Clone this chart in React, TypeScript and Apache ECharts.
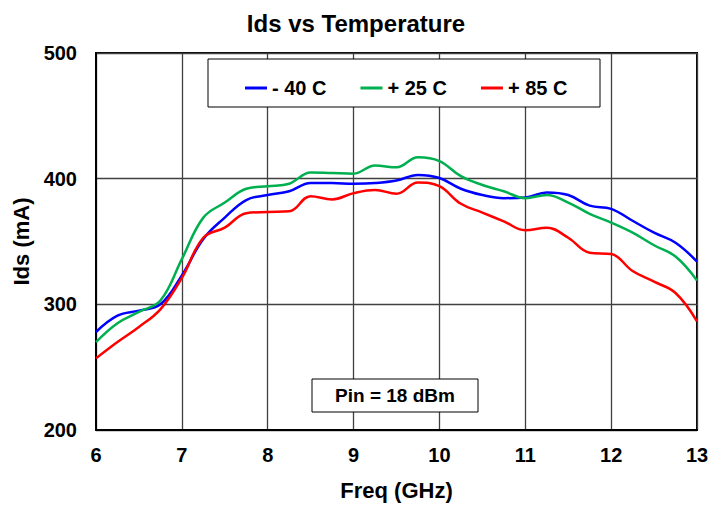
import React, { useEffect, useRef } from "react";
import * as echarts from "echarts";

const freqs = [6, 6.25, 6.5, 6.75, 7, 7.25, 7.5, 7.75, 8, 8.25, 8.5, 8.75, 9, 9.25, 9.5, 9.75, 10, 10.25, 10.5, 10.75, 11, 11.25, 11.5, 11.75, 12, 12.25, 12.5, 12.75, 13];
const idsM40 = [278, 291, 295, 300, 323, 352, 369, 383, 387, 390, 396.5, 396.5, 396, 396.5, 398.5, 403, 400.5, 392, 387, 384.5, 385, 389, 387, 378.5, 376, 366.5, 357, 349, 334];
const idsP25 = [270, 285, 294, 303, 336, 369, 381, 392, 394, 396, 405, 404.5, 404, 410.5, 409, 417, 414, 402, 395, 390, 384.5, 387, 381, 372, 365, 357, 347, 338, 319];
const idsP85 = [257, 270, 282, 296, 321, 353, 361, 372.5, 373.5, 374, 386, 383.5, 388.5, 391, 388, 397, 394, 380, 373, 366, 359, 361, 353, 341, 340, 326.5, 318, 309, 286.5];
const seriesNames = ["- 40 C", "+ 25 C", "+ 85 C"];
const seriesColors = ["#0000ff", "#00b050", "#ff0000"];

const FONT = "'Liberation Sans', Arial, sans-serif";

export default function App() {
  const ref = useRef<HTMLDivElement>(null);
  useEffect(() => {
    if (!ref.current) return;
    const chart = echarts.init(ref.current, undefined, { renderer: "svg" });
    const datasets = [idsM40, idsP25, idsP85];
    chart.setOption({
      animation: false,
      backgroundColor: "#ffffff",
      title: {
        text: "Ids vs Temperature",
        left: "center",
        top: 6,
        textStyle: { fontFamily: FONT, fontWeight: "bold", fontSize: 24, color: "#000" },
      },
      grid: { left: 96, right: 15, top: 53, bottom: 76, show: true, borderColor: "#000", borderWidth: 2 },
      legend: {
        left: 240,
        top: 73,
        z: 20,
        itemWidth: 22,
        itemHeight: 3,
        itemGap: 34,
        icon: "rect",
        data: seriesNames,
        textStyle: { fontFamily: FONT, fontWeight: "bold", fontSize: 20, color: "#000" },
      },
      xAxis: {
        type: "value",
        min: 6,
        max: 13,
        interval: 1,
        name: "Freq (GHz)",
        nameLocation: "middle",
        nameGap: 49,
        nameTextStyle: { fontFamily: FONT, fontWeight: "bold", fontSize: 22, color: "#000" },
        axisLine: { show: true, lineStyle: { color: "#000", width: 2 } },
        axisTick: { show: false },
        axisLabel: { fontFamily: FONT, fontWeight: "bold", fontSize: 20, color: "#000", margin: 15 },
        splitLine: { show: true, lineStyle: { color: "#404040", width: 1.3 } },
      },
      yAxis: {
        type: "value",
        min: 200,
        max: 500,
        interval: 100,
        name: "Ids (mA)",
        nameLocation: "middle",
        nameGap: 63,
        nameTextStyle: { fontFamily: FONT, fontWeight: "bold", fontSize: 22, color: "#000" },
        axisLine: { show: true, lineStyle: { color: "#000", width: 2 } },
        axisTick: { show: false },
        axisLabel: { fontFamily: FONT, fontWeight: "bold", fontSize: 20, color: "#000", margin: 19 },
        splitLine: { show: true, lineStyle: { color: "#404040", width: 1.3 } },
      },
      graphic: [
        {
          type: "rect",
          shape: { x: 208, y: 59, width: 392, height: 48 },
          style: { fill: "#fff", stroke: "#000", lineWidth: 1 },
          z: 10,
        },
        {
          type: "rect",
          shape: { x: 312, y: 379, width: 166, height: 33 },
          style: { fill: "#fff", stroke: "#000", lineWidth: 1 },
          z: 10,
        },
        {
          type: "text",
          x: 395,
          y: 395.5,
          style: {
            text: "Pin = 18 dBm",
            fontFamily: FONT,
            fontWeight: "bold",
            fontSize: 19,
            fill: "#000",
            textAlign: "center",
            textVerticalAlign: "middle",
          },
          z: 11,
        },
      ],
      series: datasets.map((d, i) => ({
        name: seriesNames[i],
        type: "line",
        smooth: 0.4,
        showSymbol: false,
        symbol: "none",
        data: freqs.map((f, j) => [f, d[j]]),
        lineStyle: { color: seriesColors[i], width: 2.5 },
        itemStyle: { color: seriesColors[i] },
        z: 3,
      })),
    });
    return () => chart.dispose();
  }, []);
  return <div ref={ref} style={{ width: 712, height: 506, position: "absolute", left: 0, top: 0 }} />;
}
